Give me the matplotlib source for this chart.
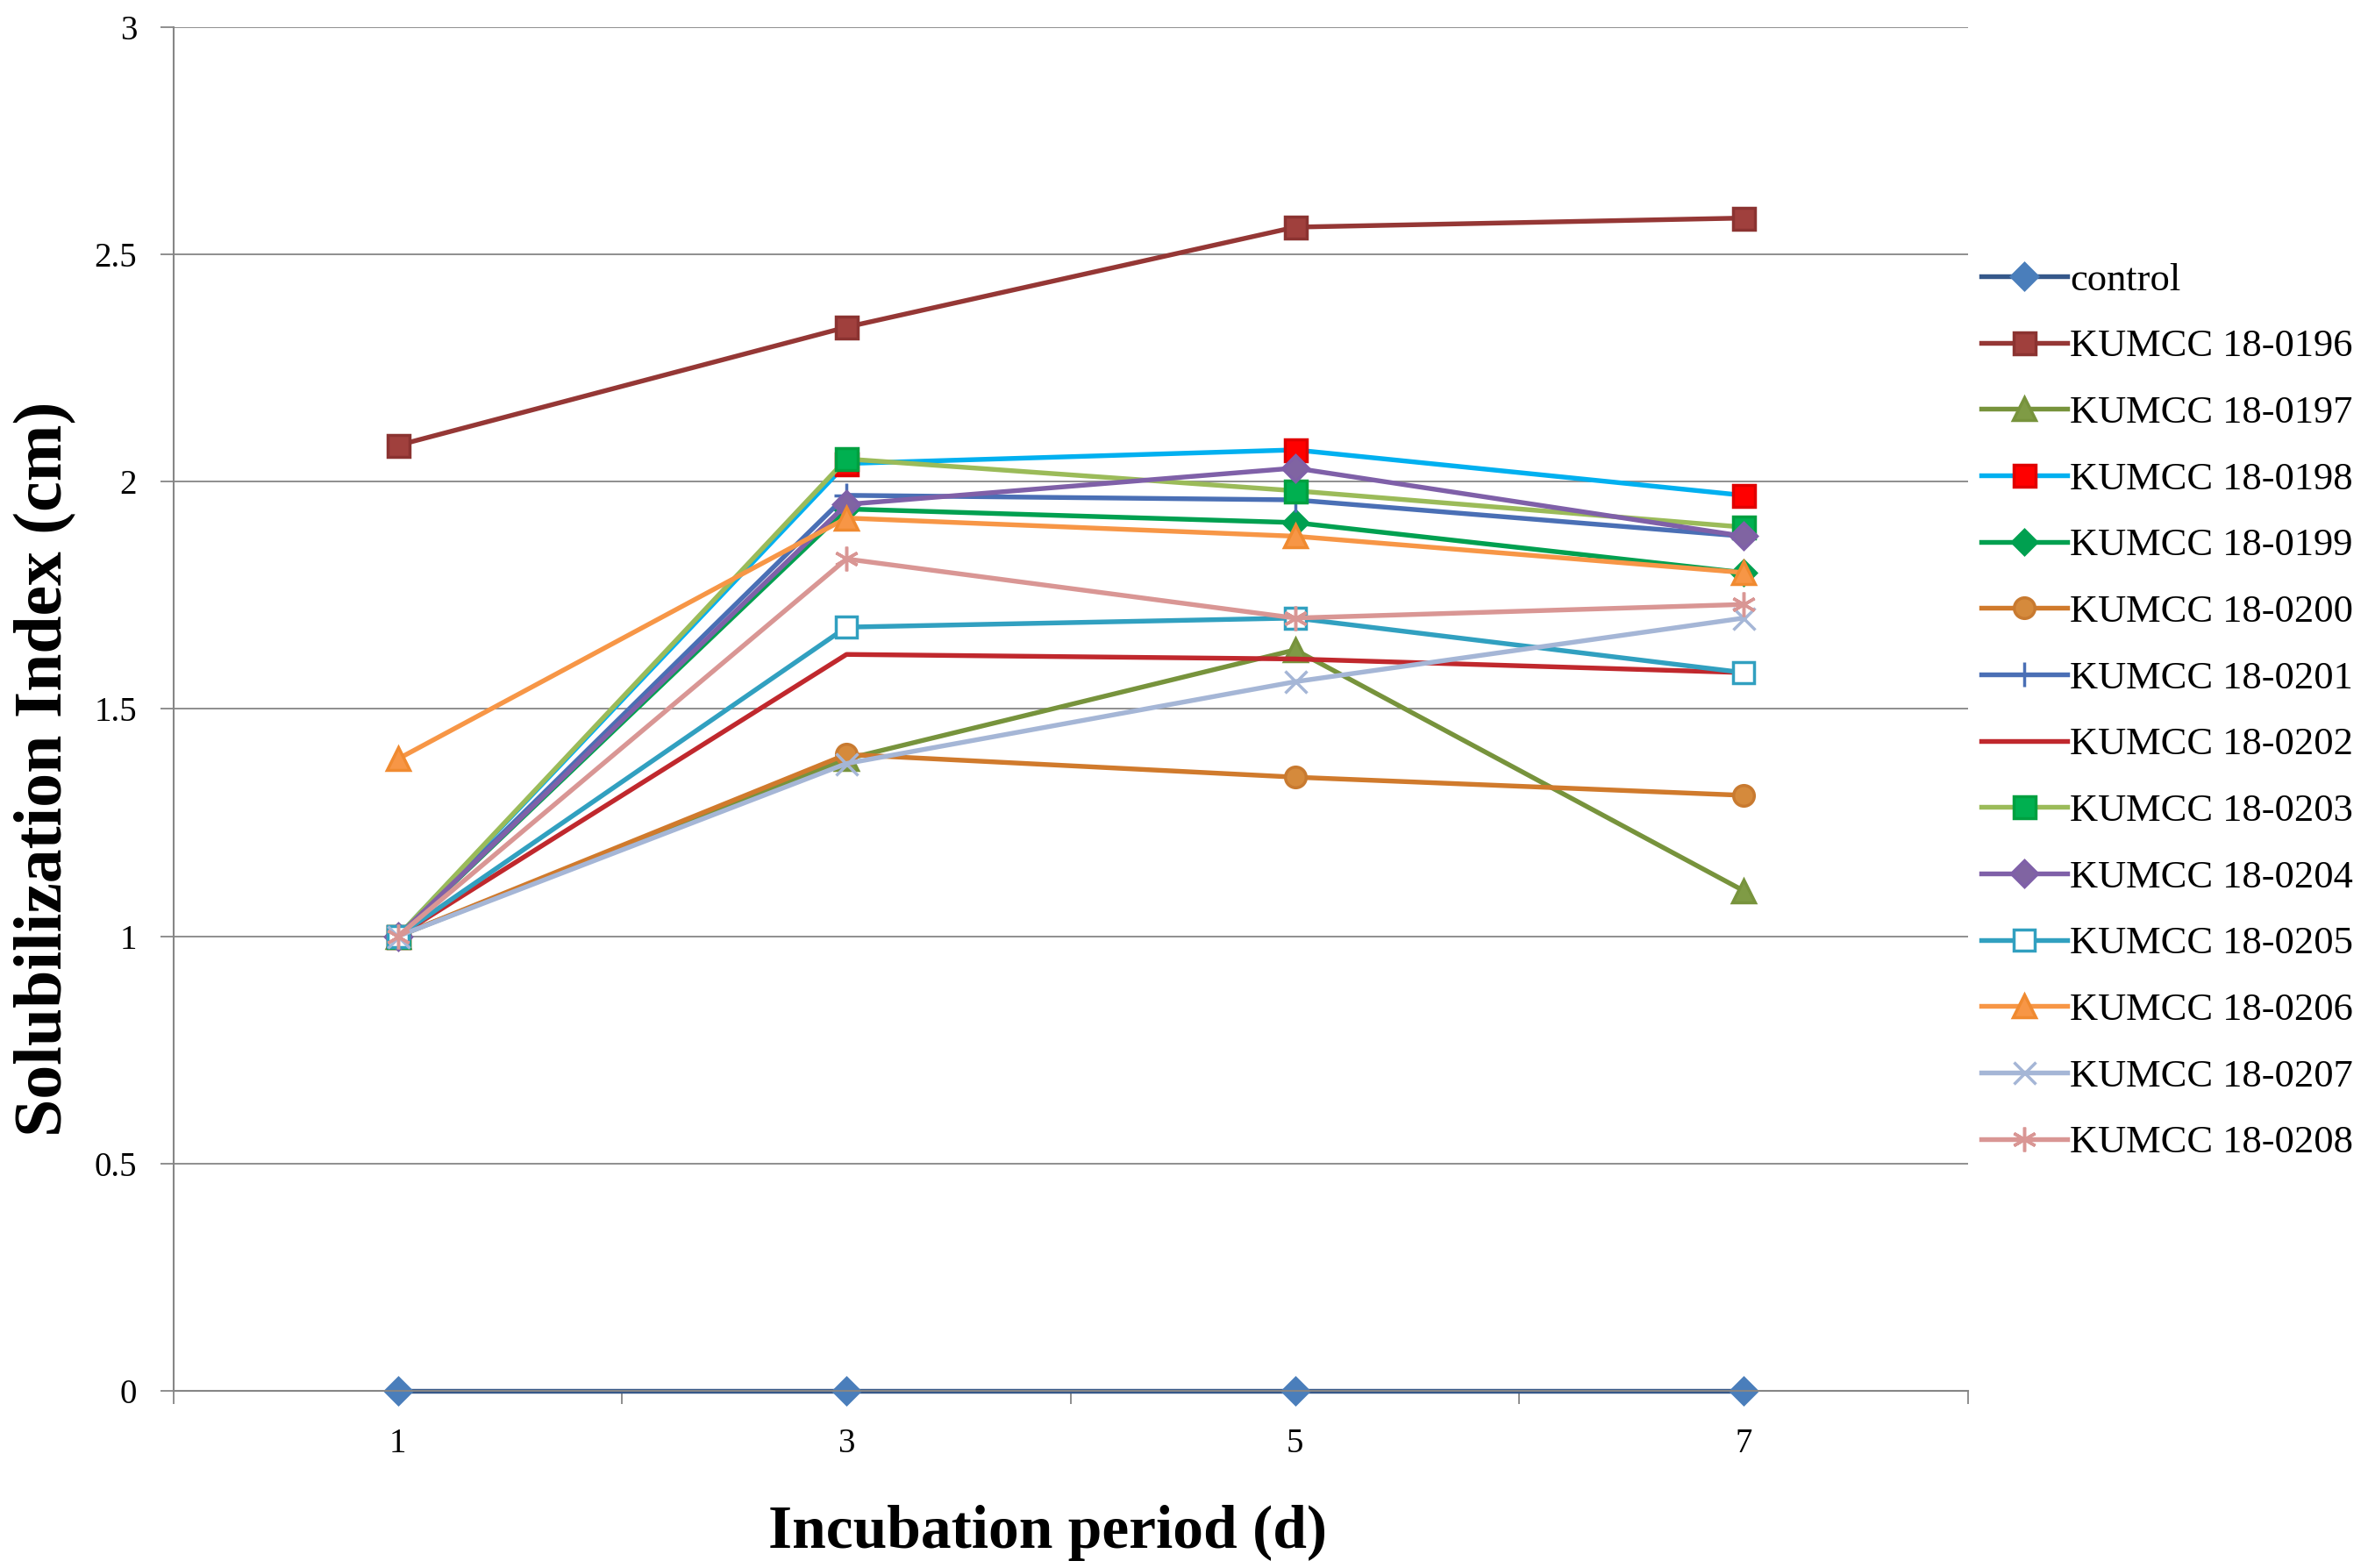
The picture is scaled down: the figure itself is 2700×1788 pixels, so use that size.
import matplotlib
matplotlib.use("Agg")
import matplotlib.pyplot as plt
from matplotlib.ticker import FixedLocator, FormatStrFormatter

plt.rcParams['font.family'] = ['Liberation Serif', 'DejaVu Serif']

days = ["1", "3", "5", "7"]

control = [0, 0, 0, 0]
k0196 = [2.08, 2.34, 2.56, 2.58]
k0197 = [1.0, 1.39, 1.63, 1.10]
k0198 = [1.0, 2.04, 2.07, 1.97]
k0199 = [1.0, 1.94, 1.91, 1.80]
k0200 = [1.0, 1.40, 1.35, 1.31]
k0201 = [1.0, 1.97, 1.96, 1.88]
k0202 = [1.0, 1.62, 1.61, 1.58]
k0203 = [1.0, 2.05, 1.98, 1.90]
k0204 = [1.0, 1.95, 2.03, 1.88]
k0205 = [1.0, 1.68, 1.70, 1.58]
k0206 = [1.39, 1.92, 1.88, 1.80]
k0207 = [1.0, 1.38, 1.56, 1.70]
k0208 = [1.0, 1.83, 1.70, 1.73]

labels = ["control", "KUMCC 18-0196", "KUMCC 18-0197", "KUMCC 18-0198",
          "KUMCC 18-0199", "KUMCC 18-0200", "KUMCC 18-0201", "KUMCC 18-0202",
          "KUMCC 18-0203", "KUMCC 18-0204", "KUMCC 18-0205", "KUMCC 18-0206",
          "KUMCC 18-0207", "KUMCC 18-0208"]
series = [control, k0196, k0197, k0198, k0199, k0200, k0201, k0202,
          k0203, k0204, k0205, k0206, k0207, k0208]

# line colour, marker, marker face, marker edge, marker size
styles = [
    ("#35588A", "D", "#4A7EBB", "#4A7EBB", 15),
    ("#953735", "s", "#A0403D", "#8B3331", 18),
    ("#77933C", "^", "#7F9B45", "#77933C", 19),
    ("#00B0F0", "s", "#FF0000", "#E00000", 18),
    ("#00A050", "D", "#00A050", "#00A050", 14),
    ("#D07A2C", "o", "#D58A3C", "#C87A30", 17),
    ("#4A6FB5", "+", "#4A6FB5", "#4A6FB5", 20),
    ("#C0282D", "", "#C0282D", "#C0282D", 0),
    ("#9BBB59", "s", "#00B050", "#00A040", 18),
    ("#7F60A8", "D", "#8064A2", "#7F60A8", 15),
    ("#31A0C0", "s", "white", "#31A0C0", 17),
    ("#F79646", "^", "#F79646", "#F08A30", 19),
    ("#A5B6D6", "x", "#A5B6D6", "#A5B6D6", 18),
    ("#D99694", (6, 2, 0), "#D99694", "#D99694", 20),
]

fig = plt.figure(figsize=(27, 17.88), dpi=100)
ax = fig.add_axes([0.0733, 0.113, 0.7578, 0.8697])

x = list(range(len(days)))
handles = []
for vals, lab, (lc, mk, mf, me, ms) in zip(series, labels, styles):
    h, = ax.plot(x, vals, color=lc, lw=3.9, marker=mk if mk else None,
                 markerfacecolor=mf, markeredgecolor=me, markersize=ms,
                 markeredgewidth=2.5, label=lab, clip_on=False)
    handles.append(h)

ax.set_xlim(-0.5, len(days) - 0.5)
ax.set_ylim(0, 3)
ax.yaxis.set_major_locator(FixedLocator([0, 0.5, 1, 1.5, 2, 2.5, 3]))
ax.yaxis.set_major_formatter(FormatStrFormatter('%g'))
ax.set_xticks(x)
ax.set_xticklabels(days)
ax.set_xticks([i - 0.5 for i in range(len(days) + 1)], minor=True)

ax.grid(axis='y', color='#868686', lw=1.3)
ax.set_axisbelow(True)
for s in ['top', 'right']:
    ax.spines[s].set_visible(False)
ax.spines['left'].set_color('#868686')
ax.spines['left'].set_linewidth(1.5)
ax.spines['bottom'].set_color('#868686')
ax.spines['bottom'].set_linewidth(1.5)

ax.tick_params(axis='y', which='major', length=11, width=1.3, color='#868686',
               pad=19, labelsize=28)
ax.tick_params(axis='x', which='major', length=0, pad=30, labelsize=28)
ax.tick_params(axis='x', which='minor', length=11, width=1.3, color='#868686',
               direction='out')

ax.set_xlabel("Incubation period (d)", fontsize=50, fontweight='bold', va='center')
ax.xaxis.set_label_coords(0.487, -0.104)
ax.set_ylabel("Solubilization Index (cm)", fontsize=56, fontweight='bold', va='center')
ax.yaxis.set_label_coords(-0.0714, 0.456)

fig.legend(handles=handles, labels=labels, loc='upper left',
           bbox_to_anchor=(0.8367, 0.8325), frameon=False, fontsize=32,
           handlelength=2.2, handletextpad=0.08, labelspacing=0.8,
           borderpad=0, borderaxespad=0)

fig.savefig("out.png", dpi=100)
